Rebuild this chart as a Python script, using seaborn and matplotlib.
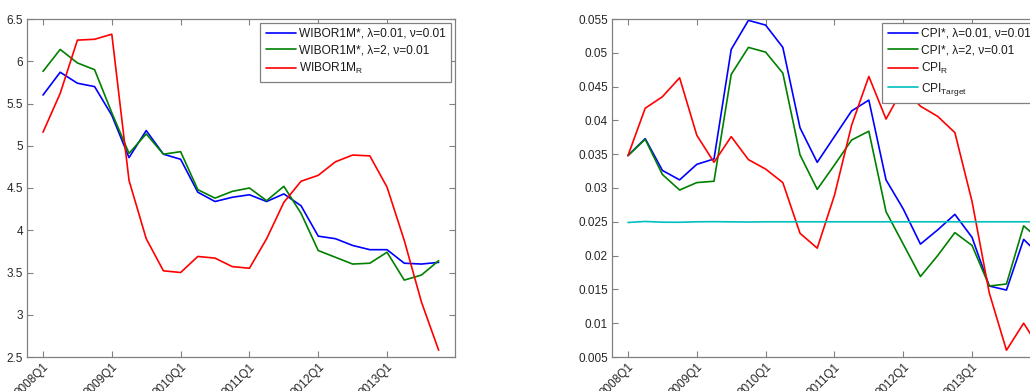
import matplotlib
matplotlib.use("Agg")
import matplotlib.pyplot as plt
import seaborn as sns
import numpy as np
import pandas as pd

# ---- data ----
quarters = ["2008Q1", "2008Q2", "2008Q3", "2008Q4", "2009Q1", "2009Q2", "2009Q3", "2009Q4",
            "2010Q1", "2010Q2", "2010Q3", "2010Q4", "2011Q1", "2011Q2", "2011Q3", "2011Q4",
            "2012Q1", "2012Q2", "2012Q3", "2012Q4", "2013Q1", "2013Q2", "2013Q3", "2013Q4",
            "2014Q1"]
tick_labels = ["2008Q1", "2009Q1", "2010Q1", "2011Q1", "2012Q1", "2013Q1"]

wibor_l001 = [5.60, 5.87, 5.74, 5.70, 5.36, 4.86, 5.18, 4.90, 4.84, 4.45, 4.34, 4.39,
              4.42, 4.34, 4.43, 4.29, 3.93, 3.90, 3.82, 3.77, 3.77, 3.61, 3.60, 3.62]
wibor_l2 = [5.88, 6.14, 5.98, 5.90, 5.39, 4.91, 5.14, 4.90, 4.93, 4.48, 4.38, 4.46,
            4.50, 4.35, 4.52, 4.20, 3.76, 3.68, 3.60, 3.61, 3.74, 3.41, 3.47, 3.64]
wibor_r = [5.16, 5.62, 6.25, 6.26, 6.32, 4.59, 3.90, 3.52, 3.50, 3.69, 3.67, 3.57,
           3.55, 3.90, 4.33, 4.58, 4.65, 4.81, 4.89, 4.88, 4.51, 3.88, 3.15, 2.58]

cpi_l001 = [0.0348, 0.0373, 0.0326, 0.0312, 0.0335, 0.0343, 0.0505, 0.0548, 0.0541, 0.0508,
            0.0389, 0.0338, 0.0376, 0.0414, 0.0430, 0.0312, 0.0269, 0.0217, 0.0238, 0.0261,
            0.0227, 0.0155, 0.0149, 0.0224, 0.0199]
cpi_l2 = [0.0348, 0.0372, 0.0320, 0.0297, 0.0308, 0.0310, 0.0468, 0.0508, 0.0501, 0.0470,
          0.0349, 0.0298, 0.0334, 0.0371, 0.0384, 0.0265, 0.0217, 0.0169, 0.0200, 0.0234,
          0.0215, 0.0155, 0.0158, 0.0244, 0.0222]
cpi_r = [0.0348, 0.0418, 0.0435, 0.0463, 0.0378, 0.0338, 0.0376, 0.0342, 0.0328, 0.0308,
         0.0233, 0.0211, 0.0289, 0.0393, 0.0465, 0.0402, 0.0448, 0.0421, 0.0406, 0.0382,
         0.0280, 0.0145, 0.0060, 0.0100, 0.0060]
cpi_target = [0.02490, 0.02505, 0.02494, 0.02493, 0.02500, 0.02502, 0.02499, 0.02497, 0.02500,
              0.02500, 0.02500, 0.02500, 0.02500, 0.02500, 0.02500, 0.02500, 0.02500, 0.02500,
              0.02500, 0.02500, 0.02500, 0.02500, 0.02500, 0.02500, 0.02500]

wibor_labels = ["WIBOR1M*, λ=0.01, ν=0.01", "WIBOR1M*, λ=2, ν=0.01", r"WIBOR1M$_\mathregular{R}$"]
cpi_labels = ["CPI*, λ=0.01, ν=0.01", "CPI*, λ=2, ν=0.01", r"CPI$_\mathregular{R}$",
              r"CPI$_\mathregular{Target}$"]

colors_w = ["#0000FF", "#008000", "#FF0000"]
colors_c = ["#0000FF", "#008000", "#FF0000", "#00BFBF"]

# ---- style ----
sns.set_style("white")
plt.rcParams["font.family"] = ["Liberation Sans", "DejaVu Sans"]
plt.rcParams["mathtext.fontset"] = "custom"
plt.rcParams["mathtext.rm"] = "Liberation Sans"

W, H = 1030, 391
fig = plt.figure(figsize=(W / 100, H / 100), dpi=100)
ax1 = fig.add_axes([27 / W, 34 / H, 428 / W, 338 / H])
ax2 = fig.add_axes([612 / W, 34 / H, 428 / W, 338 / H])

def long_df(series, labels):
    frames = []
    for s, lab in zip(series, labels):
        frames.append(pd.DataFrame({"x": np.arange(len(s)), "y": s, "series": lab}))
    return pd.concat(frames, ignore_index=True)

dfw = long_df([wibor_l001, wibor_l2, wibor_r], wibor_labels)
dfc = long_df([cpi_l001, cpi_l2, cpi_r, cpi_target], cpi_labels)

sns.lineplot(data=dfw, x="x", y="y", hue="series", palette=colors_w, linewidth=1.2,
             ax=ax1, legend=True)
sns.lineplot(data=dfc, x="x", y="y", hue="series", palette=colors_c, linewidth=1.2,
             ax=ax2, legend=True)

tick_pos = [quarters.index(t) for t in tick_labels]
spine_col = "#808080"
for ax, ylim, yticks, yfmt in [
    (ax1, (2.5, 6.5), np.arange(2.5, 6.51, 0.5), lambda v: f"{v:g}"),
    (ax2, (0.005, 0.055), np.arange(0.005, 0.0551, 0.005), lambda v: f"{round(v, 3):g}"),
]:
    ax.set_xlim(-0.93, 23.95)
    ax.set_ylim(*ylim)
    ax.set_xticks(tick_pos)
    ax.set_xticklabels(tick_labels, rotation=45, ha="right", va="top",
                       rotation_mode="anchor", fontsize=8.5, color="#262626")
    ax.set_yticks(yticks)
    ax.set_yticklabels([yfmt(v) for v in yticks], fontsize=8.5, color="#262626")
    ax.set_xlabel("")
    ax.set_ylabel("")
    ax.tick_params(direction="in", length=4, width=0.8, color=spine_col,
                   top=True, right=True, bottom=True, left=True, pad=3)
    for sp in ax.spines.values():
        sp.set_visible(True)
        sp.set_color(spine_col)
        sp.set_linewidth(0.9)
    leg = ax.legend(loc="upper right", fontsize=8.6, frameon=True, fancybox=False,
                    framealpha=1.0, borderaxespad=0.3, handlelength=2.5, handletextpad=0.3,
                    labelspacing=0.38, borderpad=0.45)
    leg.get_frame().set_edgecolor(spine_col)
    leg.get_frame().set_linewidth(0.9)
    leg.get_frame().set_facecolor("white")
    for line in leg.get_lines():
        line.set_linewidth(1.2)
    for t in leg.get_texts():
        t.set_color("#1a1a1a")

fig.savefig("out.png", dpi=100)
